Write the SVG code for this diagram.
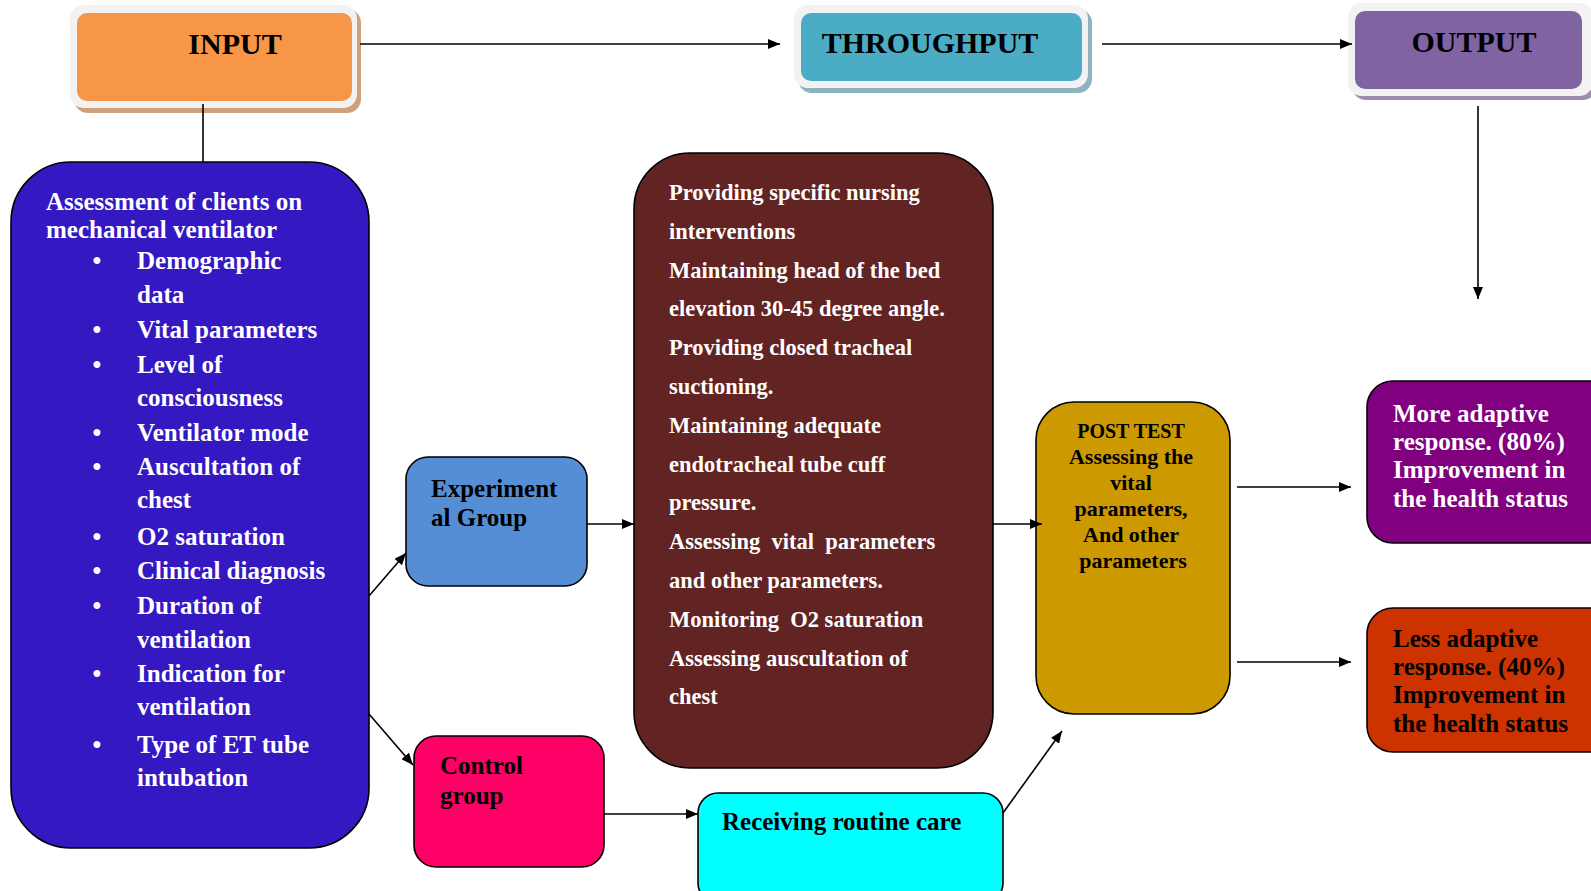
<svg xmlns="http://www.w3.org/2000/svg" width="1591" height="891" viewBox="0 0 1591 891">
<defs>
<marker id="ah" viewBox="0 0 12 10" refX="12" refY="5" markerWidth="12" markerHeight="10" markerUnits="userSpaceOnUse" orient="auto">
<path d="M0,0 L12,5 L0,10 Z" fill="#000"/>
</marker>
</defs>
<style>
text{font-family:"Liberation Serif","Times New Roman",serif;font-weight:bold}
.hd{font-size:30px;fill:#000;text-anchor:middle}
.w{fill:#fff}
.k{fill:#000}
.f25{font-size:25px}
.f22{font-size:22.5px}
.box{stroke:#000;stroke-width:1.6}
.con{stroke:#000;stroke-width:1.6;fill:none}
.frame{fill:#F2F2F2}
</style>
<rect width="1591" height="891" fill="#fff"/>

<g id="input">
<rect x="74" y="9" width="287" height="104" rx="14" fill="#CFA07C"/>
<rect x="70" y="5" width="287" height="103" rx="14" class="frame"/>
<rect x="77" y="13" width="275" height="88" rx="10" fill="#F79646"/>
<text x="235" y="54" class="hd">INPUT</text>
</g>

<g id="throughput">
<rect x="798" y="9" width="294" height="84" rx="14" fill="#8DB3BF"/>
<rect x="794" y="5" width="294" height="83" rx="14" class="frame"/>
<rect x="801" y="13" width="281" height="68" rx="10" fill="#4BACC6"/>
<text x="930" y="53" class="hd">THROUGHPUT</text>
</g>

<g id="output">
<rect x="1352" y="7" width="245" height="93" rx="14" fill="#9C8DB0"/>
<rect x="1348" y="3" width="245" height="93" rx="14" class="frame"/>
<rect x="1355" y="11" width="227" height="78" rx="10" fill="#8064A2"/>
<text x="1474" y="52" class="hd">OUTPUT</text>
</g>

<g id="assessment">
<rect x="11" y="162" width="358" height="686" rx="60" fill="#3419C3" class="box"/>
<text class="w f25"><tspan x="46" y="210">Assessment of clients on</tspan><tspan x="46" y="238">mechanical ventilator</tspan></text>
<g class="w f25" text-anchor="middle">
<text x="97" y="269">•</text>
<text x="97" y="338">•</text>
<text x="97" y="373">•</text>
<text x="97" y="441">•</text>
<text x="97" y="475">•</text>
<text x="97" y="545">•</text>
<text x="97" y="579">•</text>
<text x="97" y="614">•</text>
<text x="97" y="682">•</text>
<text x="97" y="753">•</text>
</g>
<text class="w f25">
<tspan x="137" y="269">Demographic</tspan>
<tspan x="137" y="303">data</tspan>
<tspan x="137" y="338">Vital parameters</tspan>
<tspan x="137" y="373">Level of</tspan>
<tspan x="137" y="406">consciousness</tspan>
<tspan x="137" y="441">Ventilator mode</tspan>
<tspan x="137" y="475">Auscultation of</tspan>
<tspan x="137" y="508">chest</tspan>
<tspan x="137" y="545">O2 saturation</tspan>
<tspan x="137" y="579">Clinical diagnosis</tspan>
<tspan x="137" y="614">Duration of</tspan>
<tspan x="137" y="648">ventilation</tspan>
<tspan x="137" y="682">Indication for</tspan>
<tspan x="137" y="715">ventilation</tspan>
<tspan x="137" y="753">Type of ET tube</tspan>
<tspan x="137" y="786">intubation</tspan>
</text>
</g>

<g id="experimental">
<rect x="406" y="457" width="181" height="129" rx="22" fill="#558ED5" class="box"/>
<text class="k f25"><tspan x="431" y="497">Experiment</tspan><tspan x="431" y="526">al Group</tspan></text>
</g>

<g id="control">
<rect x="414" y="736" width="190" height="131" rx="22" fill="#FF0066" class="box"/>
<text class="k f25"><tspan x="440" y="774">Control</tspan><tspan x="440" y="804">group</tspan></text>
</g>

<g id="interventions">
<rect x="634" y="153" width="359" height="615" rx="56" fill="#622323" class="box"/>
<text class="w f22">
<tspan x="669" y="200">Providing specific nursing</tspan>
<tspan x="669" y="238.8">interventions</tspan>
<tspan x="669" y="277.6">Maintaining head of the bed</tspan>
<tspan x="669" y="316.4">elevation 30-45 degree angle.</tspan>
<tspan x="669" y="355.2">Providing closed tracheal</tspan>
<tspan x="669" y="394">suctioning.</tspan>
<tspan x="669" y="432.8">Maintaining adequate</tspan>
<tspan x="669" y="471.6">endotracheal tube cuff</tspan>
<tspan x="669" y="510.4">pressure.</tspan>
<tspan x="669" y="549.2" xml:space="preserve">Assessing  vital  parameters</tspan>
<tspan x="669" y="588">and other parameters.</tspan>
<tspan x="669" y="626.8" xml:space="preserve">Monitoring  O2 saturation</tspan>
<tspan x="669" y="665.6">Assessing auscultation of</tspan>
<tspan x="669" y="704.4">chest</tspan>
</text>
</g>

<g id="routine">
<rect x="698" y="793" width="305" height="110" rx="20" fill="#00FFFF" class="box"/>
<text x="722" y="830" class="k f25">Receiving routine care</text>
</g>

<g id="posttest">
<rect x="1036" y="402" width="194" height="312" rx="38" fill="#CC9900" class="box"/>
<text class="k" text-anchor="middle">
<tspan x="1133" y="438" font-size="20">POST TEST</tspan>
<tspan x="1133" y="464" font-size="22">Assessing the</tspan>
<tspan x="1133" y="490" font-size="22">vital</tspan>
<tspan x="1133" y="516" font-size="22">parameters,</tspan>
<tspan x="1133" y="542" font-size="22">And other</tspan>
<tspan x="1133" y="568" font-size="22">parameters</tspan>
</text>
</g>

<g id="more">
<rect x="1367" y="381" width="250" height="162" rx="26" fill="#800080" class="box"/>
<text class="w f25">
<tspan x="1393" y="422">More adaptive</tspan>
<tspan x="1393" y="450">response. (80%)</tspan>
<tspan x="1393" y="478">Improvement in</tspan>
<tspan x="1393" y="507">the health status</tspan>
</text>
</g>

<g id="less">
<rect x="1367" y="608" width="250" height="144" rx="26" fill="#CC3300" class="box"/>
<text class="k f25">
<tspan x="1393" y="647">Less adaptive</tspan>
<tspan x="1393" y="675">response. (40%)</tspan>
<tspan x="1393" y="703">Improvement in</tspan>
<tspan x="1393" y="732">the health status</tspan>
</text>
</g>

<g id="connectors" class="con">
<line x1="360" y1="44" x2="780" y2="44" marker-end="url(#ah)"/>
<line x1="1102" y1="44" x2="1352" y2="44" marker-end="url(#ah)"/>
<line x1="203" y1="104" x2="203" y2="162"/>
<line x1="1478" y1="106" x2="1478" y2="299" marker-end="url(#ah)"/>
<line x1="369" y1="596" x2="406" y2="553" marker-end="url(#ah)"/>
<line x1="369" y1="714" x2="413" y2="765" marker-end="url(#ah)"/>
<line x1="587" y1="524" x2="634" y2="524" marker-end="url(#ah)"/>
<line x1="604" y1="814" x2="698" y2="814" marker-end="url(#ah)"/>
<line x1="993" y1="524" x2="1042" y2="524" marker-end="url(#ah)"/>
<line x1="1003" y1="813" x2="1062" y2="731" marker-end="url(#ah)"/>
<line x1="1237" y1="487" x2="1351" y2="487" marker-end="url(#ah)"/>
<line x1="1237" y1="662" x2="1351" y2="662" marker-end="url(#ah)"/>
</g>
</svg>
